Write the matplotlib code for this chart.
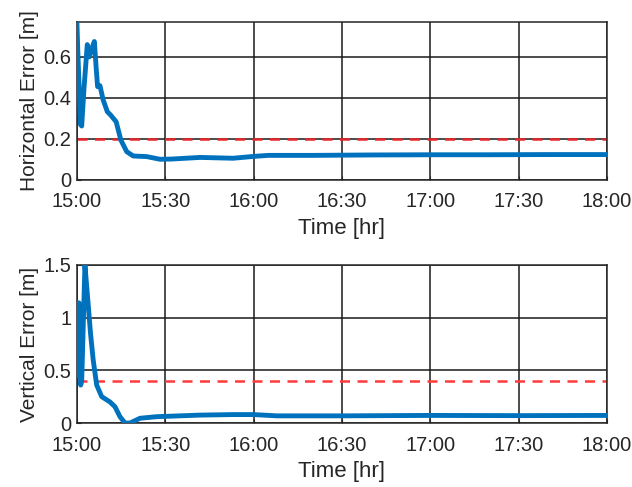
import matplotlib.pyplot as plt

# --- data (minutes after 15:00) ---
h_time = [0, 0.3, 1.2, 1.6, 2.4, 3.5, 4.2, 5.0, 5.9, 6.5, 7.0, 7.8, 8.9, 10.3, 11.4, 13.3, 14.9, 16.9,
          19.1, 23.7, 28.2, 32, 41.8, 53, 60, 65, 80, 100, 120, 140, 160, 180]
h_err = [0.76, 0.62, 0.27, 0.263, 0.45, 0.66, 0.60, 0.64, 0.675, 0.55, 0.455, 0.46, 0.39, 0.333, 0.317,
         0.284, 0.195, 0.138, 0.117, 0.114, 0.101, 0.102, 0.110, 0.106, 0.115, 0.12, 0.12, 0.122,
         0.123, 0.123, 0.124, 0.124]
h_thresh = 0.2

v_time = [0, 0.2, 0.7, 1.25, 1.6, 1.9, 2.7, 3.5, 4.6, 5.5, 6.7, 8.4, 11.2, 12.9, 14.6, 16.3, 18.0,
          21.4, 27, 41.8, 53, 60, 67.8, 90, 120, 150, 180]
v_err = [0.45, 1.14, 1.14, 0.36, 0.40, 0.69, 1.50, 1.23, 0.85, 0.60, 0.36, 0.25, 0.20, 0.155, 0.06,
         0.0, 0.0, 0.045, 0.06, 0.075, 0.08, 0.08, 0.068, 0.068, 0.072, 0.07, 0.072]
v_thresh = 0.4

tick_pos = [0, 30, 60, 90, 120, 150, 180]
tick_lab = ['15:00', '15:30', '16:00', '16:30', '17:00', '17:30', '18:00']

plt.rcParams['font.family'] = ['Liberation Sans', 'DejaVu Sans']
txt = '#262626'

fig = plt.figure(figsize=(6.32, 4.87), dpi=100)
ax1 = fig.add_axes([0.1218, 0.6304, 0.8386, 0.3244])
ax2 = fig.add_axes([0.1218, 0.1314, 0.8386, 0.3245])


def style(ax, ylim, yticks, ylabel):
    ax.set_xlim(0, 180)
    ax.set_ylim(*ylim)
    ax.set_xticks(tick_pos)
    ax.set_xticklabels(tick_lab)
    ax.set_yticks(yticks)
    ax.set_yticklabels([f'{t:g}' for t in yticks])
    ax.grid(True, color='#1a1a1a', lw=1.1, ls='-')
    ax.set_axisbelow(True)
    ax.tick_params(direction='in', length=3, labelsize=14.5, colors=txt)
    ax.tick_params(axis='x', pad=9)
    ax.tick_params(axis='y', pad=4)
    for s in ax.spines.values():
        s.set_color('#262626')
        s.set_linewidth(1.1)
    ax.set_xlabel('Time [hr]', fontsize=16, color=txt, labelpad=5)
    ax.set_ylabel(ylabel, fontsize=15, color=txt, labelpad=3)


ax1.plot(h_time, h_err, color='#0072BD', lw=3.5, solid_joinstyle='round', zorder=3)
ax1.axhline(h_thresh, color='#e8262a', ls=(0, (4, 3)), lw=1.8, zorder=2)
style(ax1, (0, 0.77), [0, 0.2, 0.4, 0.6], 'Horizontal Error [m]')

ax2.plot(v_time, v_err, color='#0072BD', lw=3.5, solid_joinstyle='round', zorder=3)
ax2.axhline(v_thresh, color='#ff3b3b', ls=(0, (4, 3)), lw=1.8, zorder=2)
style(ax2, (0, 1.5), [0, 0.5, 1, 1.5], 'Vertical Error [m]')

fig.savefig('out.png', dpi=100)
